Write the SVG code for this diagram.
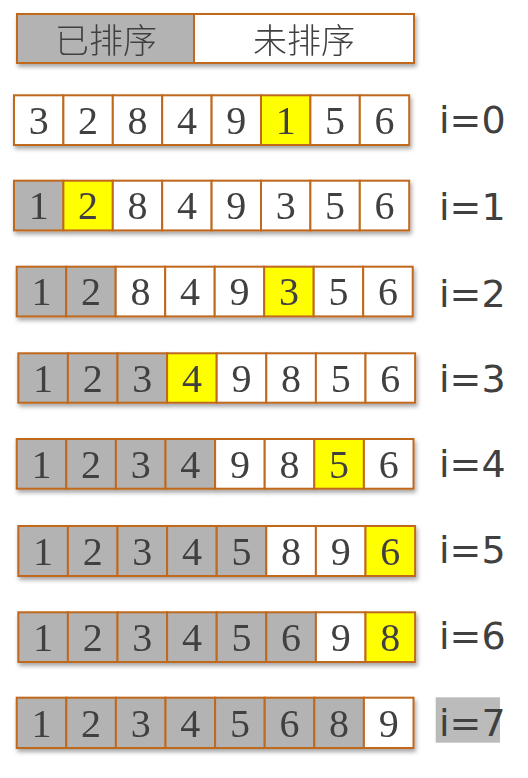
<svg xmlns="http://www.w3.org/2000/svg" width="528" height="778" viewBox="0 0 528 778">
<defs>
<filter id="sh" x="-5%" y="-20%" width="110%" height="150%">
<feDropShadow dx="1.5" dy="3" stdDeviation="2" flood-color="#000" flood-opacity="0.35"/>
</filter>
</defs>
<style>
.c{stroke:#C0691E;stroke-width:2;}
.w{fill:#FFFFFF;}
.g{fill:#B3B3B3;}
.y{fill:#FFFF00;}
.d{font-family:"Liberation Serif","Times New Roman",serif;font-size:40px;fill:#404040;text-anchor:middle;}
.l{font-family:"DejaVu Sans",Verdana,sans-serif;font-size:38px;fill:#404040;}
.h{font-family:"Noto Sans CJK SC","Noto Sans CJK JP",sans-serif;font-size:34px;font-weight:300;fill:#404040;text-anchor:middle;}
</style>
<rect width="528" height="778" fill="#FFFFFF"/>
<g id="legend" filter="url(#sh)">
<rect class="c g" x="17" y="14" width="177" height="49"/>
<rect class="c w" x="194" y="14" width="220" height="49"/>
<text class="h" x="106" y="53">已排序</text>
<text class="h" x="304" y="53">未排序</text>
</g>
<g id="row0" filter="url(#sh)">
<rect class="c w" x="14" y="95.3" width="49.4" height="49.7"/>
<rect class="c w" x="63.4" y="95.3" width="49.4" height="49.7"/>
<rect class="c w" x="112.8" y="95.3" width="49.4" height="49.7"/>
<rect class="c w" x="162.2" y="95.3" width="49.4" height="49.7"/>
<rect class="c w" x="211.6" y="95.3" width="49.4" height="49.7"/>
<rect class="c y" x="261" y="95.3" width="49.4" height="49.7"/>
<rect class="c w" x="310.4" y="95.3" width="49.4" height="49.7"/>
<rect class="c w" x="359.8" y="95.3" width="49.4" height="49.7"/>
<text class="d" y="134"><tspan x="38.7">3</tspan><tspan x="88.1">2</tspan><tspan x="137.5">8</tspan><tspan x="186.9">4</tspan><tspan x="236.3">9</tspan><tspan x="285.7">1</tspan><tspan x="335.1">5</tspan><tspan x="384.5">6</tspan></text>
</g>
<text id="label0" class="l" x="439" y="133.3">i=0</text>
<g id="row1" filter="url(#sh)">
<rect class="c g" x="14" y="180.7" width="49.4" height="49.7"/>
<rect class="c y" x="63.4" y="180.7" width="49.4" height="49.7"/>
<rect class="c w" x="112.8" y="180.7" width="49.4" height="49.7"/>
<rect class="c w" x="162.2" y="180.7" width="49.4" height="49.7"/>
<rect class="c w" x="211.6" y="180.7" width="49.4" height="49.7"/>
<rect class="c w" x="261" y="180.7" width="49.4" height="49.7"/>
<rect class="c w" x="310.4" y="180.7" width="49.4" height="49.7"/>
<rect class="c w" x="359.8" y="180.7" width="49.4" height="49.7"/>
<text class="d" y="219.4"><tspan x="38.7">1</tspan><tspan x="88.1">2</tspan><tspan x="137.5">8</tspan><tspan x="186.9">4</tspan><tspan x="236.3">9</tspan><tspan x="285.7">3</tspan><tspan x="335.1">5</tspan><tspan x="384.5">6</tspan></text>
</g>
<text id="label1" class="l" x="439" y="220">i=1</text>
<g id="row2" filter="url(#sh)">
<rect class="c g" x="16.7" y="266.7" width="49.5" height="49.7"/>
<rect class="c g" x="66.2" y="266.7" width="49.5" height="49.7"/>
<rect class="c w" x="115.7" y="266.7" width="49.5" height="49.7"/>
<rect class="c w" x="165.2" y="266.7" width="49.5" height="49.7"/>
<rect class="c w" x="214.7" y="266.7" width="49.5" height="49.7"/>
<rect class="c y" x="264.2" y="266.7" width="49.5" height="49.7"/>
<rect class="c w" x="313.7" y="266.7" width="49.5" height="49.7"/>
<rect class="c w" x="363.2" y="266.7" width="49.5" height="49.7"/>
<text class="d" y="305.4"><tspan x="41.45">1</tspan><tspan x="90.95">2</tspan><tspan x="140.45">8</tspan><tspan x="189.95">4</tspan><tspan x="239.45">9</tspan><tspan x="288.95">3</tspan><tspan x="338.45">5</tspan><tspan x="387.95">6</tspan></text>
</g>
<text id="label2" class="l" x="439" y="306.7">i=2</text>
<g id="row3" filter="url(#sh)">
<rect class="c g" x="18.3" y="353.3" width="49.6" height="49.4"/>
<rect class="c g" x="67.9" y="353.3" width="49.6" height="49.4"/>
<rect class="c g" x="117.5" y="353.3" width="49.6" height="49.4"/>
<rect class="c y" x="167.1" y="353.3" width="49.6" height="49.4"/>
<rect class="c w" x="216.7" y="353.3" width="49.6" height="49.4"/>
<rect class="c w" x="266.3" y="353.3" width="49.6" height="49.4"/>
<rect class="c w" x="315.9" y="353.3" width="49.6" height="49.4"/>
<rect class="c w" x="365.5" y="353.3" width="49.6" height="49.4"/>
<text class="d" y="391.8"><tspan x="43.1">1</tspan><tspan x="92.7">2</tspan><tspan x="142.3">3</tspan><tspan x="191.9">4</tspan><tspan x="241.5">9</tspan><tspan x="291.1">8</tspan><tspan x="340.7">5</tspan><tspan x="390.3">6</tspan></text>
</g>
<text id="label3" class="l" x="439" y="391.7">i=3</text>
<g id="row4" filter="url(#sh)">
<rect class="c g" x="16.7" y="439" width="49.6" height="49.7"/>
<rect class="c g" x="66.3" y="439" width="49.6" height="49.7"/>
<rect class="c g" x="115.9" y="439" width="49.6" height="49.7"/>
<rect class="c g" x="165.5" y="439" width="49.6" height="49.7"/>
<rect class="c w" x="215.1" y="439" width="49.6" height="49.7"/>
<rect class="c w" x="264.7" y="439" width="49.6" height="49.7"/>
<rect class="c y" x="314.3" y="439" width="49.6" height="49.7"/>
<rect class="c w" x="363.9" y="439" width="49.6" height="49.7"/>
<text class="d" y="477.7"><tspan x="41.5">1</tspan><tspan x="91.1">2</tspan><tspan x="140.7">3</tspan><tspan x="190.3">4</tspan><tspan x="239.9">9</tspan><tspan x="289.5">8</tspan><tspan x="339.1">5</tspan><tspan x="388.7">6</tspan></text>
</g>
<text id="label4" class="l" x="439" y="477.3">i=4</text>
<g id="row5" filter="url(#sh)">
<rect class="c g" x="18.3" y="526" width="49.6" height="50"/>
<rect class="c g" x="67.9" y="526" width="49.6" height="50"/>
<rect class="c g" x="117.5" y="526" width="49.6" height="50"/>
<rect class="c g" x="167.1" y="526" width="49.6" height="50"/>
<rect class="c g" x="216.7" y="526" width="49.6" height="50"/>
<rect class="c w" x="266.3" y="526" width="49.6" height="50"/>
<rect class="c w" x="315.9" y="526" width="49.6" height="50"/>
<rect class="c y" x="365.5" y="526" width="49.6" height="50"/>
<text class="d" y="564.7"><tspan x="43.1">1</tspan><tspan x="92.7">2</tspan><tspan x="142.3">3</tspan><tspan x="191.9">4</tspan><tspan x="241.5">5</tspan><tspan x="291.1">8</tspan><tspan x="340.7">9</tspan><tspan x="390.3">6</tspan></text>
</g>
<text id="label5" class="l" x="439" y="563.3">i=5</text>
<g id="row6" filter="url(#sh)">
<rect class="c g" x="18.3" y="612.3" width="49.6" height="49.7"/>
<rect class="c g" x="67.9" y="612.3" width="49.6" height="49.7"/>
<rect class="c g" x="117.5" y="612.3" width="49.6" height="49.7"/>
<rect class="c g" x="167.1" y="612.3" width="49.6" height="49.7"/>
<rect class="c g" x="216.7" y="612.3" width="49.6" height="49.7"/>
<rect class="c g" x="266.3" y="612.3" width="49.6" height="49.7"/>
<rect class="c w" x="315.9" y="612.3" width="49.6" height="49.7"/>
<rect class="c y" x="365.5" y="612.3" width="49.6" height="49.7"/>
<text class="d" y="651"><tspan x="43.1">1</tspan><tspan x="92.7">2</tspan><tspan x="142.3">3</tspan><tspan x="191.9">4</tspan><tspan x="241.5">5</tspan><tspan x="291.1">6</tspan><tspan x="340.7">9</tspan><tspan x="390.3">8</tspan></text>
</g>
<text id="label6" class="l" x="439" y="649.3">i=6</text>
<g id="row7" filter="url(#sh)">
<rect class="c g" x="16.7" y="697.7" width="49.6" height="50.3"/>
<rect class="c g" x="66.3" y="697.7" width="49.6" height="50.3"/>
<rect class="c g" x="115.9" y="697.7" width="49.6" height="50.3"/>
<rect class="c g" x="165.5" y="697.7" width="49.6" height="50.3"/>
<rect class="c g" x="215.1" y="697.7" width="49.6" height="50.3"/>
<rect class="c g" x="264.7" y="697.7" width="49.6" height="50.3"/>
<rect class="c g" x="314.3" y="697.7" width="49.6" height="50.3"/>
<rect class="c w" x="363.9" y="697.7" width="49.6" height="50.3"/>
<text class="d" y="736.6"><tspan x="41.5">1</tspan><tspan x="91.1">2</tspan><tspan x="140.7">3</tspan><tspan x="190.3">4</tspan><tspan x="239.9">5</tspan><tspan x="289.5">6</tspan><tspan x="339.1">8</tspan><tspan x="388.7">9</tspan></text>
</g>
<g id="label7">
<rect x="435.7" y="697.3" width="64.3" height="45.4" fill="#BBBBBB"/>
<text class="l" x="439" y="736">i=7</text>
</g>
<g id="connectors"/>
</svg>
